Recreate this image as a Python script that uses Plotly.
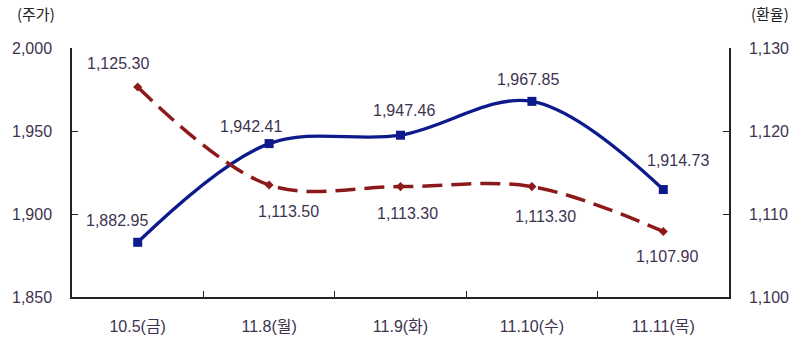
import plotly.graph_objects as go

categories = ["10.5(금)", "11.8(월)", "11.9(화)", "11.10(수)", "11.11(목)"]
stock = [1882.95, 1942.41, 1947.46, 1967.85, 1914.73]
fx = [1125.30, 1113.50, 1113.30, 1113.30, 1107.90]

stock_offsets = [(-21, 22), (-18, 17), (3, 25), (-4, 22), (15, 29)]
fx_offsets = [(-20, 24), (19, -27), (7, -27), (14, -30), (4, -25)]

blue = "#0d1a8c"
red = "#8c1a1a"
txt = "#3d3350"
font_family = "Liberation Sans, Arial, sans-serif"

fig = go.Figure()
fig.add_trace(go.Scatter(
    x=categories, y=fx, yaxis="y2", mode="lines+markers",
    line=dict(color=red, width=3.5, dash="20px,9px", shape="spline", smoothing=1),
    marker=dict(symbol="diamond", size=7, color=red),
    showlegend=False, hoverinfo="skip"))
fig.add_trace(go.Scatter(
    x=categories, y=stock, yaxis="y", mode="lines+markers",
    line=dict(color=blue, width=3.3, shape="spline", smoothing=1),
    marker=dict(symbol="square", size=9, color=blue),
    showlegend=False, hoverinfo="skip"))

annotations = []
for c, v, (dx, dy) in zip(categories, stock, stock_offsets):
    annotations.append(dict(x=c, y=v, yref="y", xref="x", text=f"{v:,.2f}",
                            showarrow=False, xshift=dx, yshift=dy,
                            font=dict(size=16, color=txt, family=font_family)))
for c, v, (dx, dy) in zip(categories, fx, fx_offsets):
    annotations.append(dict(x=c, y=v, yref="y2", xref="x", text=f"{v:,.2f}",
                            showarrow=False, xshift=dx, yshift=dy,
                            font=dict(size=16, color=txt, family=font_family)))
annotations.append(dict(x=0, y=1, xref="paper", yref="paper", text="(주가)",
                        showarrow=False, xanchor="center", yanchor="middle",
                        xshift=-36, yshift=35,
                        font=dict(size=15, color="#222", family="Noto Sans CJK KR")))
annotations.append(dict(x=1, y=1, xref="paper", yref="paper", text="(환율)",
                        showarrow=False, xanchor="center", yanchor="middle",
                        xshift=41, yshift=35,
                        font=dict(size=15, color="#222", family="Noto Sans CJK KR")))

axis_common = dict(showgrid=False, zeroline=False, showline=True, linecolor="#222",
                   linewidth=1.5, ticks="inside", ticklen=6, tickcolor="#222",
                   tickfont=dict(size=16, color=txt, family=font_family))

fig.update_layout(
    width=801, height=347,
    margin=dict(l=69, r=67, t=48, b=50),
    plot_bgcolor="white", paper_bgcolor="white",
    xaxis=dict(**{k: v for k, v in axis_common.items() if k != "tickfont"},
               tickson="boundaries", range=[-0.5, 4.5],
               tickfont=dict(size=16, color=txt, family="Liberation Sans, Noto Sans CJK KR")),
    yaxis=dict(**axis_common, range=[1850, 2000], tickvals=[1850, 1900, 1950, 2000],
               tickformat=",", side="left"),
    yaxis2=dict(**axis_common, range=[1100, 1130], tickvals=[1100, 1110, 1120, 1130],
                tickformat=",", side="right", overlaying="y"),
    annotations=annotations,
)
fig.update_xaxes(ticklabelstandoff=14)
fig.update_yaxes(ticklabelstandoff=15)

fig.write_html("out.html")
